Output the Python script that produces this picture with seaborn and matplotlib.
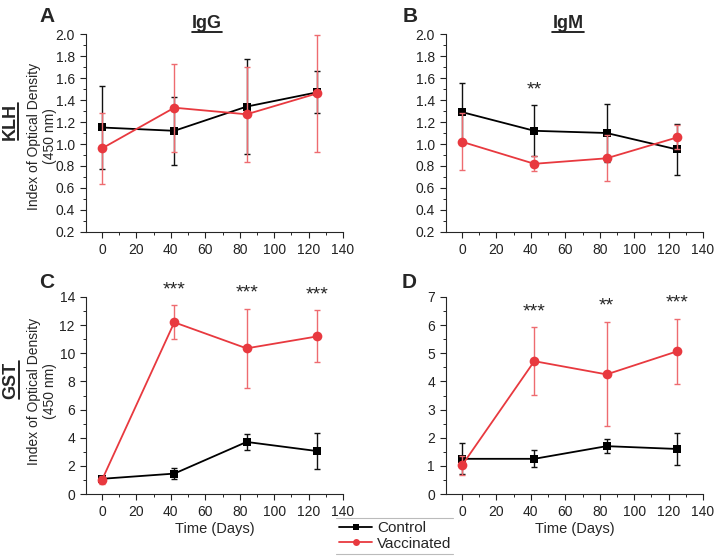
import numpy as np
import pandas as pd
import matplotlib
matplotlib.use("Agg")
import matplotlib.pyplot as plt
from matplotlib.lines import Line2D
from matplotlib.ticker import MultipleLocator, FormatStrFormatter
import seaborn as sns

# sampling days
days = [0, 42, 84, 125]
groups = ["Control", "Vaccinated"]

# A: IgG / KLH
a_ctrl = [1.15, 1.12, 1.34, 1.47]
a_ctrl_sd = [0.38, 0.31, 0.43, 0.19]
a_vacc = [0.96, 1.33, 1.27, 1.46]
a_vacc_sd = [0.32, 0.40, 0.43, 0.53]

# B: IgM / KLH
b_ctrl = [1.29, 1.12, 1.10, 0.95]
b_ctrl_sd = [0.26, 0.23, 0.26, 0.23]
b_vacc = [1.02, 0.82, 0.87, 1.06]
b_vacc_sd = [0.26, 0.07, 0.21, 0.11]

# C: IgG / GST
c_ctrl = [1.08, 1.45, 3.70, 3.05]
c_ctrl_sd = [0.15, 0.40, 0.55, 1.25]
c_vacc = [1.00, 12.20, 10.35, 11.20]
c_vacc_sd = [0.30, 1.20, 2.80, 1.85]

# D: IgM / GST
d_ctrl = [1.25, 1.25, 1.70, 1.60]
d_ctrl_sd = [0.55, 0.30, 0.25, 0.58]
d_vacc = [1.02, 4.72, 4.25, 5.07]
d_vacc_sd = [0.33, 1.20, 1.85, 1.15]

# significance marks (day, y, label)
b_stars = [(42, 1.49, "**")]
c_stars = [(42, 14.5, "***"), (84, 14.3, "***"), (125, 14.15, "***")]
d_stars = [(42, 6.48, "***"), (84, 6.69, "**"), (125, 6.8, "***")]

RED = "#E8393F"
palette = {"Control": "black", "Vaccinated": RED}
err_colors = {"Control": "#111111", "Vaccinated": "#EE6B70"}
markers = {"Control": "s", "Vaccinated": "o"}
msizes = {"Control": 5.5, "Vaccinated": 7}


def make_frame(ctrl, ctrl_sd, vacc, vacc_sd):
    rows = []
    for g, m, s in [("Control", ctrl, ctrl_sd), ("Vaccinated", vacc, vacc_sd)]:
        for d, mv, sv in zip(days, m, s):
            rows.append({"day": d, "od": mv, "sd": sv, "group": g})
    return pd.DataFrame(rows)


sns.set_style("ticks")
plt.rcParams["font.family"] = ["Liberation Sans", "DejaVu Sans"]
plt.rcParams["xtick.direction"] = "out"
plt.rcParams["ytick.direction"] = "out"

fig = plt.figure(figsize=(7.16, 5.58), dpi=100)
W, H = 716, 558


def fx(px):
    return px / W


def fy(py):
    return 1 - py / H


panels = [
    ("A", make_frame(a_ctrl, a_ctrl_sd, a_vacc, a_vacc_sd), (86, 34, 343, 232), (0.2, 2.0), 0.2, 0.1, "%.1f", []),
    ("B", make_frame(b_ctrl, b_ctrl_sd, b_vacc, b_vacc_sd), (446, 34, 703, 232), (0.2, 2.0), 0.2, 0.1, "%.1f", b_stars),
    ("C", make_frame(c_ctrl, c_ctrl_sd, c_vacc, c_vacc_sd), (86, 297, 343, 494), (0, 14), 2, 1, "%d", c_stars),
    ("D", make_frame(d_ctrl, d_ctrl_sd, d_vacc, d_vacc_sd), (446, 297, 703, 494), (0, 7), 1, 0.5, "%d", d_stars),
]

axes = {}
for name, df, (l, t, r, b), ylim, major, minor, fmt, stars in panels:
    ax = fig.add_axes([fx(l), fy(b), (r - l) / W, (b - t) / H])
    axes[name] = ax
    for i, g in enumerate(groups):
        sub = df[df["group"] == g]
        ax.errorbar(sub["day"], sub["od"], yerr=sub["sd"], fmt="none",
                    ecolor=err_colors[g], elinewidth=1.0, capsize=2, capthick=1.0,
                    zorder=2 + 2 * i)
        sns.lineplot(data=sub, x="day", y="od", color=palette[g], marker=markers[g],
                     markersize=msizes[g], markeredgewidth=0, linewidth=1.3,
                     ax=ax, legend=False, zorder=3 + 2 * i)
    ax.set_xlim(-9.3, 140)
    ax.set_ylim(*ylim)
    ax.xaxis.set_major_locator(MultipleLocator(20))
    ax.xaxis.set_minor_locator(MultipleLocator(10))
    ax.yaxis.set_major_locator(MultipleLocator(major))
    ax.yaxis.set_minor_locator(MultipleLocator(minor))
    ax.yaxis.set_major_formatter(FormatStrFormatter(fmt))
    ax.tick_params(which="major", length=4, width=0.8, labelsize=10, colors="#222222", pad=4)
    ax.tick_params(which="minor", length=2.5, width=0.7)
    for s in ["top", "right"]:
        ax.spines[s].set_visible(False)
    for s in ["left", "bottom"]:
        ax.spines[s].set_linewidth(0.8)
    ax.set_xlabel("")
    ax.set_ylabel("")
    for d, y, lab in stars:
        ax.text(d, y, lab, ha="center", va="center", fontsize=14, clip_on=False)

# y labels of the left column, placed in figure pixels
for py in (136, 391):
    fig.text(fx(42), fy(py), "Index of Optical Density\n(450 nm)", fontsize=10,
             rotation=90, ha="center", va="center", multialignment="center",
             linespacing=1.15)
for name in ["C", "D"]:
    axes[name].set_xlabel("Time (Days)", fontsize=10.5, labelpad=2)

# panel letters
for name, (px, py) in {"A": (47, 16), "B": (410, 16), "C": (47, 283), "D": (409, 283)}.items():
    fig.text(fx(px), fy(py), name, fontsize=15, fontweight="bold", ha="center", va="center")

# underlined titles and row labels
underlined = []
underlined.append(fig.text(fx(207), fy(24), "IgG", fontsize=13, fontweight="bold", ha="center", va="center"))
underlined.append(fig.text(fx(568), fy(24), "IgM", fontsize=13, fontweight="bold", ha="center", va="center"))
row_labels = []
row_labels.append(fig.text(fx(10), fy(121), "KLH", fontsize=13, fontweight="bold", rotation=90, ha="center", va="center"))
row_labels.append(fig.text(fx(11), fy(380), "GST", fontsize=13, fontweight="bold", rotation=90, ha="center", va="center"))

handles = [Line2D([], [], color=palette[g], marker=markers[g], markersize=5,
                  markeredgewidth=0, linewidth=1.3) for g in groups]
leg = fig.legend(handles, groups, loc="center", bbox_to_anchor=(fx(395), fy(536)),
                 frameon=False, fontsize=11, handlelength=2.2, handletextpad=0.3,
                 labelspacing=0.1, borderpad=0.2)

fig.canvas.draw()
renderer = fig.canvas.get_renderer()
inv = fig.transFigure.inverted()
for t in underlined:
    bb = t.get_window_extent(renderer)
    (x0, y0), (x1, y1) = inv.transform([(bb.x0, bb.y0), (bb.x1, bb.y1)])
    fig.add_artist(Line2D([x0, x1], [y0 + 0.001, y0 + 0.001], color="black", linewidth=1.2))
for t in row_labels:
    bb = t.get_window_extent(renderer)
    (x0, y0), (x1, y1) = inv.transform([(bb.x0, bb.y0), (bb.x1, bb.y1)])
    fig.add_artist(Line2D([x1 - 0.001, x1 - 0.001], [y0, y1], color="black", linewidth=1.2))

lb = leg.get_window_extent(renderer)
(lx0, ly0), (lx1, ly1) = inv.transform([(lb.x0, lb.y0), (lb.x1, lb.y1)])
for yy in (ly0, ly1):
    fig.add_artist(Line2D([fx(336), fx(453)], [yy, yy], color="#bbbbbb", linewidth=0.8))

fig.savefig("out.png", dpi=100)
